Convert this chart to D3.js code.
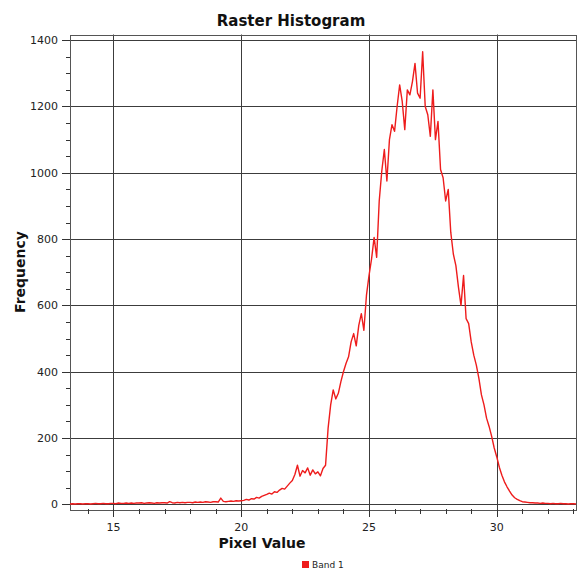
<!DOCTYPE html>
<html>
<head>
<meta charset="utf-8">
<script src="https://cdn.jsdelivr.net/npm/d3@7"></script>
<style>
  body { margin: 0; background: #fff; }
  svg { display: block; font-family: "DejaVu Sans", Verdana, sans-serif; }
</style>
</head>
<body>
<div id="chart"></div>
<script>
var svgWidth = 580, svgHeight = 571;

// histogram bins: first bin centre and bin step (pixel value)
var binStart = 13.3, binStep = 0.1;

// frequency per bin (13.3 .. 33.1)
var freq = [
  1, 2, 1, 2, 2, 1, 2,                                   // 13.3 - 13.9
  2, 1, 2, 3, 2, 2, 3, 2, 2, 3,                          // 14
  3, 2, 4, 3, 3, 4, 3, 4, 3, 4,                          // 15
  4, 5, 3, 4, 5, 4, 3, 5, 4, 5,                          // 16
  5, 4, 8, 5, 4, 6, 5, 6, 5, 6,                          // 17
  6, 5, 7, 6, 7, 6, 8, 7, 6, 8,                          // 18
  8, 7, 19, 9, 8, 9, 10, 9, 11, 10,                      // 19
  11, 12, 15, 13, 17, 16, 21, 19, 24, 27,                // 20
  30, 34, 31, 38, 36, 43, 48, 46, 55, 64,                // 21
  72, 90, 118, 85, 102, 95, 110, 88, 104, 92,            // 22
  98, 86, 108, 118, 230, 300, 345, 318, 335, 370,        // 23
  400, 425, 445, 490, 515, 478, 540, 575, 525, 630,      // 24
  690, 740, 805, 745, 915, 1005, 1070, 975, 1100, 1145,  // 25
  1125, 1200, 1265, 1215, 1130, 1250, 1235, 1275, 1330, 1240, // 26
  1225, 1365, 1200, 1175, 1110, 1250, 1100, 1155, 1010, 985,  // 27
  915, 950, 820, 755, 720, 655, 600, 690, 560, 545,      // 28
  490, 450, 420, 380, 330, 300, 260, 235, 205, 170,      // 29
  143, 112, 88, 68, 53, 40, 28, 20, 15, 11,              // 30
  8, 7, 6, 5, 5, 4, 4, 3, 4, 3,                          // 31
  3, 2, 3, 2, 2, 3, 2, 2, 1, 2,                          // 32
  2, 1                                                   // 33.0 - 33.1
];

var xDomain = [13.3, 33.1], yDomain = [-14, 1417];
var xMajor = [15, 20, 25, 30];
var xMinor = d3.range(14, 34, 1);
var yMajor = [0, 200, 400, 600, 800, 1000, 1200, 1400];
var yMinor = d3.range(0, 1401, 50);

var titleText = "Raster Histogram", xTitle = "Pixel Value", yTitle = "Frequency";
var seriesName = "Band 1", seriesColor = "#ee1c1c";

var data = freq.map(function(f, i) {
  return { v: binStart + i * binStep, f: f };
});

// plot frame (note: "top" is reserved on window, so use plot* names)
var plotLeft = 70, plotRight = 576, plotTop = 34.5, plotBottom = 509;

var svg = d3.select("#chart").append("svg")
  .attr("width", svgWidth)
  .attr("height", svgHeight);

var x = d3.scaleLinear().domain(xDomain).range([plotLeft, plotRight]);
var y = d3.scaleLinear().domain(yDomain).range([plotBottom, plotTop]);

function px(v) { return Math.round(v) + 0.5; }

// grid
var grid = svg.append("g");
grid.selectAll("line.gx")
  .data(xMajor)
  .enter().append("line")
  .attr("x1", d => px(x(d))).attr("x2", d => px(x(d)))
  .attr("y1", plotTop).attr("y2", plotBottom)
  .attr("stroke", "#3c3c3c");
grid.selectAll("line.gy")
  .data(yMajor)
  .enter().append("line")
  .attr("y1", d => px(y(d))).attr("y2", d => px(y(d)))
  .attr("x1", plotLeft).attr("x2", plotRight)
  .attr("stroke", "#3c3c3c");

// frame
svg.append("rect")
  .attr("x", px(plotLeft)).attr("y", px(plotTop))
  .attr("width", Math.round(plotRight - plotLeft)).attr("height", Math.round(plotBottom - plotTop))
  .attr("fill", "none")
  .attr("stroke", "#555");

// histogram line
var line = d3.line()
  .x(d => x(d.v))
  .y(d => y(d.f));

svg.append("path")
  .datum(data)
  .attr("d", line)
  .attr("fill", "none")
  .attr("stroke", seriesColor)
  .attr("stroke-width", 1.4)
  .attr("stroke-linejoin", "round");

// y axis ticks
var yAxis = svg.append("g");
yAxis.selectAll("line.ymin")
  .data(yMinor)
  .enter().append("line")
  .attr("x1", plotLeft - 4).attr("x2", plotLeft)
  .attr("y1", d => px(y(d))).attr("y2", d => px(y(d)))
  .attr("stroke", "#333");
yAxis.selectAll("line.ymaj")
  .data(yMajor)
  .enter().append("line")
  .attr("x1", plotLeft - 8).attr("x2", plotLeft)
  .attr("y1", d => px(y(d))).attr("y2", d => px(y(d)))
  .attr("stroke", "#333");
yAxis.selectAll("text")
  .data(yMajor)
  .enter().append("text")
  .attr("x", plotLeft - 12)
  .attr("y", d => y(d) + 4)
  .attr("text-anchor", "end")
  .attr("font-size", 11)
  .attr("fill", "#222")
  .text(d => d);

// x axis ticks
var xAxis = svg.append("g");
xAxis.selectAll("line.xmin")
  .data(xMinor)
  .enter().append("line")
  .attr("x1", d => px(x(d))).attr("x2", d => px(x(d)))
  .attr("y1", plotBottom).attr("y2", plotBottom + 5)
  .attr("stroke", "#333");
xAxis.selectAll("line.xmaj")
  .data(xMajor)
  .enter().append("line")
  .attr("x1", d => px(x(d))).attr("x2", d => px(x(d)))
  .attr("y1", plotBottom).attr("y2", plotBottom + 8)
  .attr("stroke", "#333");
xAxis.selectAll("text")
  .data(xMajor)
  .enter().append("text")
  .attr("x", d => x(d))
  .attr("y", 531)
  .attr("text-anchor", "middle")
  .attr("font-size", 11)
  .attr("fill", "#222")
  .text(d => d);

// titles
svg.append("text")
  .attr("x", 291).attr("y", 26)
  .attr("text-anchor", "middle")
  .attr("font-size", 15)
  .attr("font-weight", "bold")
  .attr("fill", "#111")
  .text(titleText);

svg.append("text")
  .attr("x", 262).attr("y", 548)
  .attr("text-anchor", "middle")
  .attr("font-size", 14)
  .attr("font-weight", "bold")
  .attr("fill", "#111")
  .text(xTitle);

svg.append("text")
  .attr("transform", "translate(25,272) rotate(-90)")
  .attr("text-anchor", "middle")
  .attr("font-size", 14)
  .attr("font-weight", "bold")
  .attr("fill", "#111")
  .text(yTitle);

// legend
var legend = svg.append("g").attr("transform", "translate(302,561)");
legend.append("rect")
  .attr("width", 7).attr("height", 7)
  .attr("fill", seriesColor);
legend.append("text")
  .attr("x", 10).attr("y", 7)
  .attr("font-size", 9)
  .attr("fill", "#222")
  .text(seriesName);
</script>
</body>
</html>
